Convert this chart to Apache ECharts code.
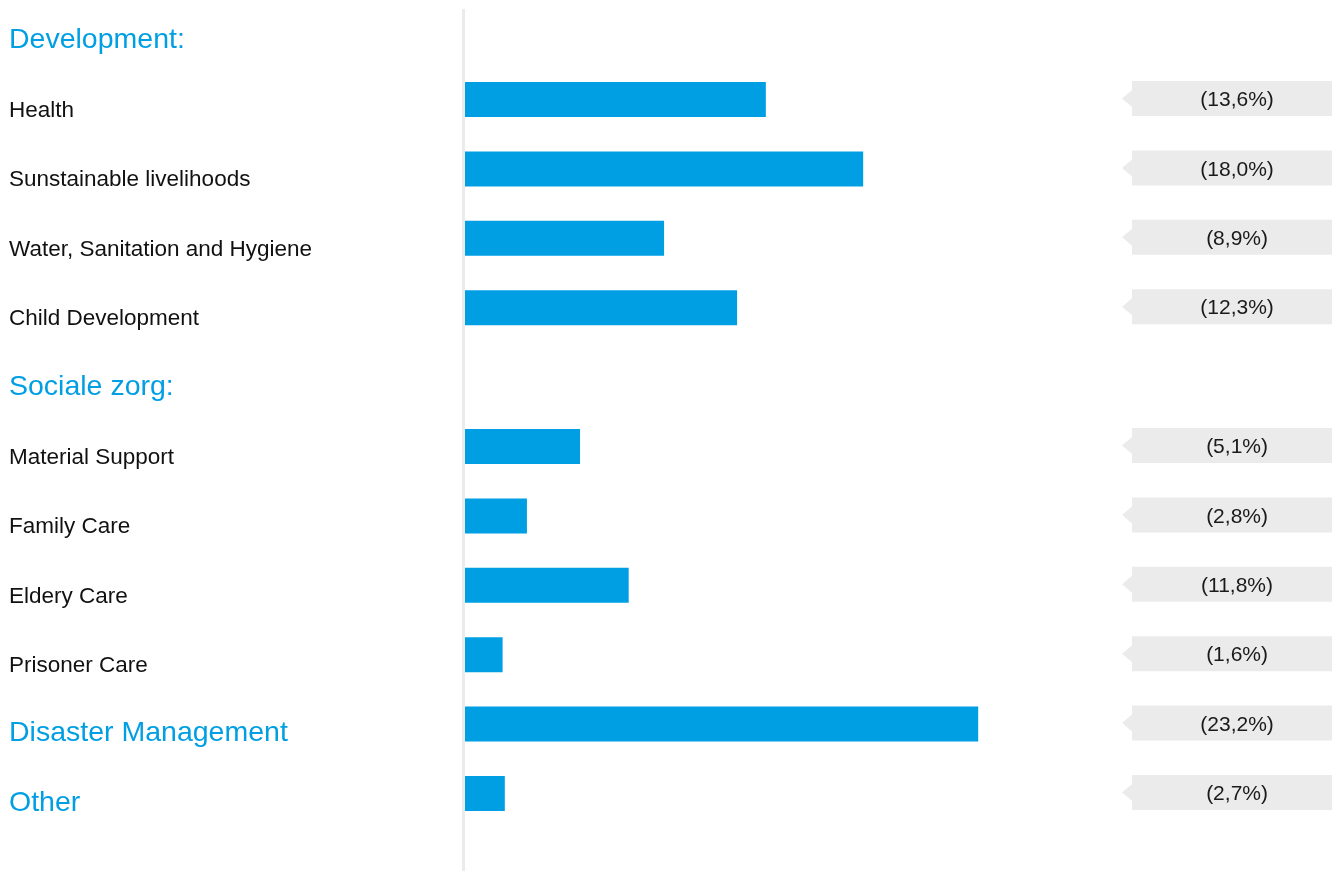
<!DOCTYPE html>
<html>
<head>
<meta charset="utf-8">
<script src="https://cdn.jsdelivr.net/npm/echarts@6/dist/echarts.min.js"></script>
<style>
  html, body { margin: 0; padding: 0; background: #fff; }
  #chart { width: 1335px; height: 871px; }
</style>
</head>
<body>
<div id="chart"></div>
<script>
// rows, top to bottom; headers are drawn in blue
const categories = [
  'Development:', 'Health', 'Sunstainable livelihoods', 'Water, Sanitation and Hygiene',
  'Child Development', 'Sociale zorg:', 'Material Support', 'Family Care',
  'Eldery Care', 'Prisoner Care', 'Disaster Management', 'Other'
];
const headers = ['Development:', 'Sociale zorg:', 'Disaster Management', 'Other'];
// bar lengths as drawn (percent), null where the row is a group title
const barValues = [null, 13.6, 18.0, 9.0, 12.3, null, 5.2, 2.8, 7.4, 1.7, 23.2, 1.8];
// texts shown in the grey tags
const tagLabels = [null, '(13,6%)', '(18,0%)', '(8,9%)', '(12,3%)', null,
  '(5,1%)', '(2,8%)', '(11,8%)', '(1,6%)', '(23,2%)', '(2,7%)'];

const BLUE = '#009fe3';
const TAG_X = 34.45;   // centre of the tags on the value axis

const tagData = tagLabels.map((t, i) => t === null ? null : [TAG_X, i]);

const chart = echarts.init(document.getElementById('chart'));

chart.setOption({
  animation: false,
  grid: {
    left: 465, right: 7.3, top: -4.6, bottom: 42.8,
    containLabel: false,
    outerBoundsMode: 'none'
  },
  xAxis: {
    type: 'value', min: 0, max: 39,
    show: false
  },
  yAxis: {
    type: 'category',
    inverse: true,
    data: categories,
    axisLine: { show: false },
    axisTick: { show: false },
    axisLabel: {
      align: 'left',
      margin: 456,
      fontFamily: 'Liberation Sans',
      formatter: function (v) {
        if (v === 'Development:' || v === 'Sociale zorg:') return '{h|' + v + '}';
        return headers.indexOf(v) >= 0 ? '{g|' + v + '}' : '{t|' + v + '}';
      },
      rich: {
        h: { fontSize: 28.5, color: BLUE, fontFamily: 'Liberation Sans', padding: [21, 0, 0, 0] },
        g: { fontSize: 28.5, color: BLUE, fontFamily: 'Liberation Sans', padding: [19, 0, 0, 0] },
        t: { fontSize: 22.5, color: '#111', fontFamily: 'Liberation Sans', padding: [22, 0, 0, 0] }
      }
    }
  },
  graphic: [{
    type: 'rect',
    shape: { x: 462, y: 9, width: 3, height: 862 },
    style: { fill: '#ebebeb' },
    silent: true
  }],
  series: [
    {
      type: 'bar',
      data: barValues,
      barWidth: 35,
      itemStyle: { color: BLUE },
      silent: true
    },
    {
      type: 'scatter',
      data: tagData,
      symbol: 'path://M10,0 L210,0 L210,35 L10,35 L10,26 L0,17.5 L10,9 Z',
      symbolSize: [210, 35],
      symbolOffset: [0, -1],
      itemStyle: { color: '#ebebeb', opacity: 1 },
      silent: true,
      label: {
        show: true,
        position: 'inside',
        offset: [10, 2],
        color: '#1a1a1a',
        fontSize: 21,
        fontFamily: 'Liberation Sans',
        formatter: function (p) { return tagLabels[p.dataIndex]; }
      }
    }
  ]
});
</script>
</body>
</html>
